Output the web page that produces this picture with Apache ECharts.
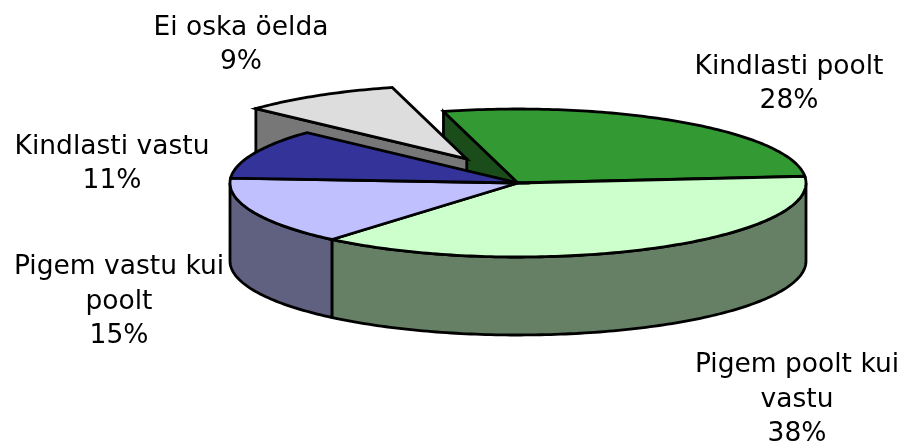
<!DOCTYPE html>
<html>
<head>
    <meta charset="utf-8">
    <title>Kindlasti poolt</title>
    <script src="https://cdn.jsdelivr.net/npm/echarts@6/dist/echarts.min.js"></script>
    <style>
        body, html { margin: 0; padding: 0; height: 100%; overflow: hidden; background: #fff; }
        #main { width: 903px; height: 441px; }
    </style>
</head>
<body>
    <div id="main"></div>
    <script>
        var categories = ['Kindlasti poolt', 'Pigem poolt kui\nvastu', 'Pigem vastu kui\npoolt', 'Kindlasti vastu', 'Ei oska öelda'];
        var values = [28, 38, 15, 11, 9];
        var exploded = [0, 0, 0, 0, 0.345];

        var topColors = ['#339933', '#CCFFCC', '#C0C0FF', '#333399', '#DDDDDD'];
        var wallColors = ['#1A4D1A', '#668066', '#606080', '#1A1A4D', '#777777'];
        var labelCenters = [[789, 84], [797, 400], [119, 302], [112, 164], [241, 45]];

        var cx = 518, cy = 183, rx = 288, ry = 74, depth = 78;
        var startAngle = -15; // degrees clockwise from the top
        var total = values.reduce(function (a, b) { return a + b; }, 0);

        // start and end angle of every slice
        var angles = [];
        values.reduce(function (from, v) {
            var to = from + v / total * 360;
            angles.push([from, to]);
            return to;
        }, startAngle);

        function pt(deg, ox, oy, dz) {
            var r = deg * Math.PI / 180;
            return [cx + ox + rx * Math.sin(r), cy + oy - ry * Math.cos(r) + (dz || 0)];
        }

        function arc(from, to, ox, oy, dz) {
            var pts = [];
            var n = Math.max(2, Math.ceil(Math.abs(to - from)));
            for (var i = 0; i <= n; i++) {
                pts.push(pt(from + (to - from) * i / n, ox, oy, dz));
            }
            return pts;
        }

        function shape(points, fill, z2) {
            return {
                type: 'polygon',
                z2: z2,
                shape: { points: points },
                style: { fill: fill, stroke: '#000', lineWidth: 2.8, lineJoin: 'miter', miterLimit: 10 }
            };
        }

        function renderSlice(params, api) {
            var i = params.dataIndex;
            var a0 = angles[i][0], a1 = angles[i][1];
            var mid = (a0 + a1) / 2 * Math.PI / 180;
            var e = exploded[i];
            var ox = e * rx * Math.sin(mid), oy = -e * ry * 1.1 * Math.cos(mid);
            var apex = [cx + ox, cy + oy];
            var children = [];

            // radial wall, only where the neighbouring slice does not cover it
            if (i === 0 || e > 0) {
                var p = pt(a0, ox, oy);
                children.push(shape([p, apex, [apex[0], apex[1] + depth], [p[0], p[1] + depth]], wallColors[i], e > 0 ? 2 : 1));
            }

            // front rim, between 90 and 270 degrees
            var r0 = Math.max(a0, 90), r1 = Math.min(a1, 270);
            if (r1 > r0) {
                var rim = arc(r0, r1, ox, oy).concat(arc(r1, r0, ox, oy, depth));
                children.push(shape(rim, wallColors[i], 4));
            }

            // top face
            children.push(shape([apex].concat(arc(a0, a1, ox, oy)), topColors[i], e > 0 ? 3 : 5));

            children.push({
                type: 'text',
                z2: 10,
                style: {
                    text: categories[i] + '\n' + api.value(0) + '%',
                    x: labelCenters[i][0],
                    y: labelCenters[i][1],
                    align: 'center',
                    verticalAlign: 'middle',
                    fontFamily: 'DejaVu Sans',
                    fontSize: 26.5,
                    lineHeight: 34.5,
                    fill: '#000'
                }
            });

            return { type: 'group', children: children };
        }

        var myChart = echarts.init(document.getElementById('main'));
        myChart.setOption({
            animation: false,
            backgroundColor: '#fff',
            series: [{
                type: 'custom',
                coordinateSystem: 'none',
                renderItem: renderSlice,
                data: values.map(function (v, i) { return { name: categories[i], value: [v] }; })
            }]
        });
    </script>
</body>
</html>
